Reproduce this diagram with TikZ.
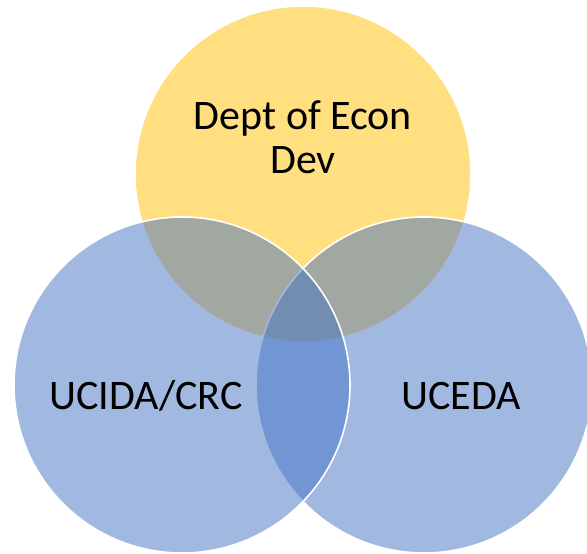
\documentclass[tikz,border=0pt]{standalone}
\usepackage{fontspec}
\setmainfont{Carlito}
\definecolor{setblue}{HTML}{4472C4}
\definecolor{setgold}{HTML}{FFC000}
\begin{document}
\begin{tikzpicture}
        [
            x=1pt, y=-1pt,
            set/.style={circle, draw=white, line width=1.6pt, fill opacity=0.5, minimum size=336pt, inner sep=0pt},
            lbl/.style={anchor=base, align=center, font=\fontsize{42}{44}\selectfont}
        ]
        \useasboundingbox (0,0) rectangle (587,554);
        % sets
        \node[set, fill=setgold] (econ) at (303,174) {};
        \node[set, fill=setblue] (uceda) at (424,385) {};
        \node[set, fill=setblue] (ucida) at (182,385) {};
        % labels
        \node[lbl] (econlbl) at (303,173) {Dept of Econ\\Dev};
        \node[lbl] (ucidalbl) at (146,409) {UCIDA/CRC};
        \node[lbl] (ucedalbl) at (461,409) {UCEDA};
    \end{tikzpicture}
\end{document}
